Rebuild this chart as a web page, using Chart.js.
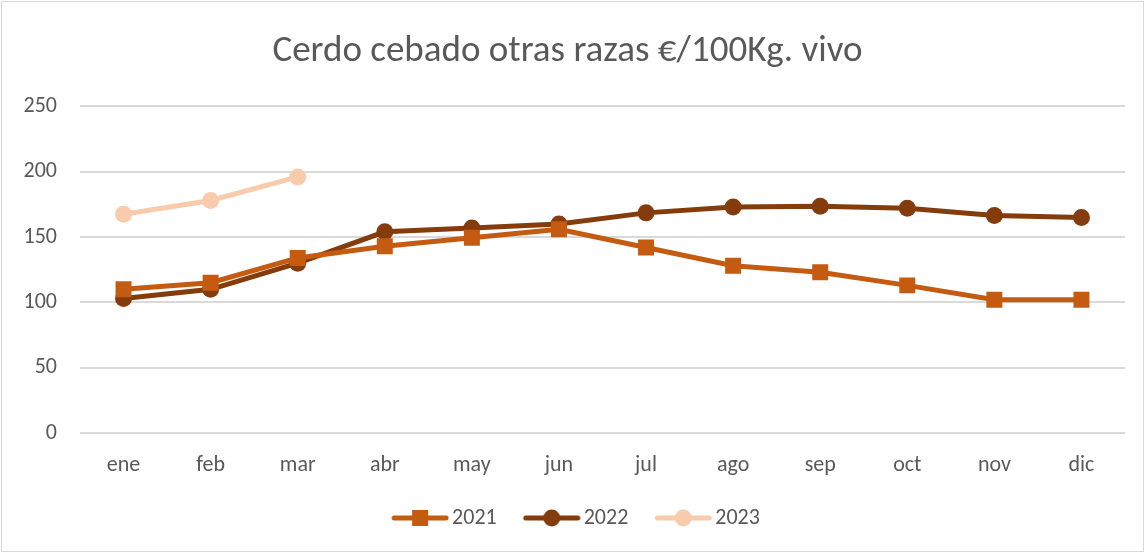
<!DOCTYPE html>
<html>
<head>
<meta charset="utf-8">
<script src="https://cdn.jsdelivr.net/npm/chart.js@4.4.1/dist/chart.umd.min.js"></script>
<style>
  html, body { margin: 0; padding: 0; background: #fff; }
  #wrap { width: 1145px; height: 553px; position: relative; }
</style>
</head>
<body>
<div id="wrap"><canvas id="chart" width="1145" height="553"></canvas></div>
<script>
// data
const months = ['ene', 'feb', 'mar', 'abr', 'may', 'jun', 'jul', 'ago', 'sep', 'oct', 'nov', 'dic'];
const y2021 = [110, 115, 134, 143, 149.5, 156, 142, 128, 123, 113, 102, 102];
const y2022 = [103, 110, 130, 154, 157, 160, 168.5, 173, 173.5, 172, 166.5, 165];
const y2023 = [167.5, 178, 196];
const yTicks = [0, 50, 100, 150, 200, 250];

const FONT = 'Carlito, Lato, "Liberation Sans", sans-serif';
const GREY = '#595959';

// legend picture: thick line with the marker in the middle
// (canvas is wider on the left so the line sits close to the text)
function legendIcon(color, shape) {
  const c = document.createElement('canvas');
  c.width = 82; c.height = 20;
  const g = c.getContext('2d');
  g.strokeStyle = color;
  g.lineWidth = 5;
  g.lineCap = 'round';
  g.beginPath(); g.moveTo(27, 10); g.lineTo(79, 10); g.stroke();
  g.fillStyle = color;
  if (shape == 'rect') {
    g.fillRect(45, 2, 16, 16);
  } else {
    g.beginPath(); g.arc(53, 10, 8.5, 0, Math.PI * 2); g.fill();
  }
  return c;
}

const series = [
  { label: '2021', data: y2021, color: '#C55A11', shape: 'rect', r: 11.3 },
  { label: '2022', data: y2022, color: '#843C0C', shape: 'circle', r: 8.5 },
  { label: '2023', data: y2023, color: '#F8CBAD', shape: 'circle', r: 8.5 }
];

const borderPlugin = {
  id: 'frame',
  afterDraw(chart) {
    const ctx = chart.ctx;
    ctx.save();
    ctx.strokeStyle = '#d9d9d9';
    ctx.lineWidth = 1;
    ctx.strokeRect(1.5, 1.5, chart.width - 3, chart.height - 3);
    ctx.restore();
  }
};

const ctx = document.getElementById('chart').getContext('2d');
const chart = new Chart(ctx, {
  type: 'line',
  data: {
    labels: months,
    datasets: series.map(s => ({
      label: s.label,
      data: s.data,
      borderColor: s.color,
      backgroundColor: s.color,
      borderWidth: 5,
      pointStyle: s.shape,
      pointRadius: s.r,
      pointHoverRadius: s.r,
      pointBorderWidth: 0,
      tension: 0,
      fill: false
    }))
  },
  options: {
    responsive: false,
    animation: false,
    devicePixelRatio: 1,
    layout: { padding: { left: 10, right: 20, top: 0, bottom: 14 } },
    plugins: {
      title: {
        display: true,
        text: 'Cerdo cebado otras razas €/100Kg. vivo',
        color: GREY,
        font: { family: FONT, size: 37, weight: 'normal' },
        padding: { top: 30, bottom: 32 }
      },
      legend: {
        position: 'bottom',
        labels: {
          color: GREY,
          font: { family: FONT, size: 22 },
          usePointStyle: true,
          pointStyleWidth: 66,
          padding: 10,
          generateLabels(chart) {
            return series.map((s, i) => ({
              text: s.label,
              pointStyle: legendIcon(s.color, s.shape),
              fillStyle: s.color,
              strokeStyle: s.color,
              lineWidth: 0,
              fontColor: GREY,
              datasetIndex: i
            }));
          }
        }
      },
      tooltip: { enabled: false }
    },
    scales: {
      x: {
        offset: true,
        grid: { display: false, drawTicks: false },
        border: { display: false },
        ticks: { color: GREY, font: { family: FONT, size: 22 }, padding: 19 },
        afterFit(scale) { scale.height = 64; }
      },
      y: {
        min: 0,
        max: 250,
        afterBuildTicks(scale) { scale.ticks = yTicks.map(v => ({ value: v })); },
        grid: { color: '#d9d9d9', lineWidth: 2, drawTicks: false },
        border: { display: false },
        ticks: { color: GREY, font: { family: FONT, size: 22 }, padding: 23 },
        afterFit(scale) { scale.width = 70; }
      }
    }
  },
  plugins: [borderPlugin]
});
</script>
</body>
</html>
